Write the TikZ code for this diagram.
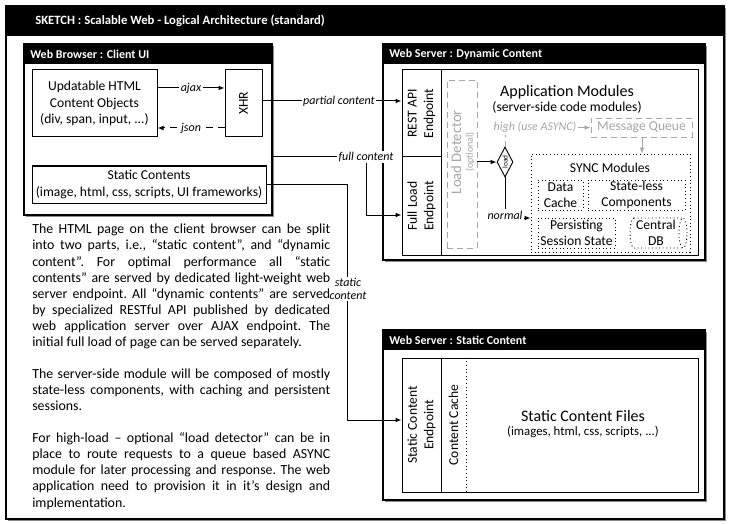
\documentclass[tikz,border=0pt]{standalone}
\usepackage{fontspec}
\setmainfont{Carlito}
\usetikzlibrary{arrows.meta,fit,shapes.geometric,shadows}
\definecolor{lg}{HTML}{A6A6A6}
\begin{document}
\begin{tikzpicture}[x=0.75pt,y=-0.75pt,
  frame/.style={draw, line width=1.1pt, inner sep=0pt, fill=white,
    drop shadow={shadow xshift=1.5pt, shadow yshift=-1.5pt, fill=black!45, opacity=1}},
  box/.style={draw, line width=0.75pt, inner sep=0pt},
  dotbox/.style={draw, dotted, line width=0.7pt, inner sep=0pt},
  gbox/.style={draw=lg, dash pattern=on 4.5pt off 3pt, line width=0.7pt, inner sep=0pt},
  bar/.style={fill=black, inner sep=0pt},
  bartxt/.style={text=white, font=\fontsize{9}{11}\selectfont\bfseries, anchor=west, inner sep=0pt},
  txt/.style={font=\fontsize{10.2}{12.4}\selectfont, align=center, inner sep=0pt},
  big/.style={font=\fontsize{12}{14}\selectfont, align=center, inner sep=0pt},
  lab/.style={font=\fontsize{9}{10.5}\selectfont\itshape, fill=white, inner sep=1pt, align=center},
  glab/.style={font=\fontsize{9}{10.5}\selectfont\itshape, text=lg, fill=white, inner sep=1pt},
  arr/.style={-{Latex[length=4.5pt,width=3.6pt]}, line width=0.75pt},
  garr/.style={-{Latex[length=4.5pt,width=3.6pt]}, line width=0.75pt, draw=lg},
]
\useasboundingbox (0,0) rectangle (731,524);

% helper coordinates (levels)
\coordinate (yaj) at (0,88);
\coordinate (yjs) at (0,128);
\coordinate (ypc) at (0,101);
\coordinate (yfc) at (0,157);
\coordinate (yfl) at (0,215);
\coordinate (ysa) at (0,420);
\coordinate (yno) at (0,218);
\coordinate (xfc) at (366,0);
\coordinate (xst) at (347,0);
\coordinate (xmq) at (642,0);

% outer frame
\node[frame, fit={(6,6)(724,519)}] (outer) {};
\node[bar, fit={(6,6)(724,36)}] (tbar) {};
\node[bartxt, font=\fontsize{9.5}{11}\selectfont\bfseries] (ttl) at (35,21) {SKETCH : Scalable Web - Logical Architecture (standard)};

% web browser
\node[frame, fit={(24,44)(272,215)}] (wb) {};
\node[bar, fit={(24,44)(272,64)}] (wbbar) {};
\node[bartxt] (wbt) at (30,54) {Web Browser : Client UI};
\node[box, fit={(32,70)(157,137)}] (upd) {};
\node[txt] (updt) at (upd.center) {Updatable HTML\\Content Objects\\(div, span, input, ...)};
\node[box, fit={(225,70)(262,137)}] (xhr) {};
\node[txt, rotate=90] (xhrt) at (xhr.center) {XHR};
\node[box, fit={(32,166)(266,203)}] (stc) {};
\node[txt] (stct) at (stc.center) {Static Contents\\(image, html, css, scripts, UI frameworks)};

\draw[arr] (upd.east |- yaj) -- (xhr.west |- yaj) node[midway, lab] {ajax};
\draw[arr, dash pattern=on 5pt off 4pt] (xhr.west |- yjs) -- (upd.east |- yjs) node[midway, lab] {json};

% dynamic server
\node[frame, fit={(383,44)(705,260)}] (dyn) {};
\node[bar, fit={(383,44)(705,64)}] (dynbar) {};
\node[bartxt] (dynt) at (389,54) {Web Server : Dynamic Content};
\node[box, fit={(402,70)(698,255)}] (app) {};
\node[box, fit={(402,70)(441,157)}] (rest) {};
\node[txt, rotate=90] (restt) at (rest.center) {REST API\\Endpoint};
\node[box, fit={(402,157)(441,255)}] (full) {};
\node[txt, rotate=90] (fullt) at (full.center) {Full Load\\Endpoint};
\node[big] (appt) at (567,92) {Application Modules};
\node[txt] (apps) at (567,107) {(server-side code modules)};

\node[gbox, fit={(447,80)(477,248)}] (ld) {};
\node[rotate=90, text=lg, font=\fontsize{11}{12}\selectfont, inner sep=0pt] (ldt) at (456,152) {Load Detector};
\node[rotate=90, text=lg, font=\fontsize{7.5}{9}\selectfont, inner sep=0pt] (ldo) at (470,152) {(optional)};

\node[diamond, draw, line width=0.7pt, minimum width=12pt, minimum height=22.5pt, inner sep=0pt] (dia) at (505,162) {};
\node[rotate=90, font=\fontsize{5.5}{6}\selectfont, inner sep=0pt] (diat) at (dia.center) {load};

\node[gbox, fit={(591,118)(692,137)}] (mq) {};
\node[txt, text=lg] (mqt) at (mq.center) {Message Queue};
\node[glab] (high) at (535,127.5) {high (use ASYNC)};
\draw[garr] (high.east) -- (mq.west);
\draw[draw=lg, dash pattern=on 4pt off 3pt, line width=0.7pt] (dia.north) -- (dia.north |- high.south);

\draw[arr] (ld.east |- dia.west) -- (dia.west);

\node[dotbox, fit={(531,154)(690,252)}] (sync) {};
\node[txt] (synct) at (610,168) {SYNC Modules};
\node[dotbox, fit={(538,180)(583,210)}] (dc) {};
\node[txt] (dct) at (dc.center) {Data\\Cache};
\node[dotbox, fit={(588,180)(685,210)}] (sl) {};
\node[txt] (slt) at (sl.center) {State-less\\Components};
\node[dotbox, fit={(538,218)(615,248)}] (ps) {};
\node[txt] (pst) at (ps.center) {Persisting\\Session State};
% central DB (horizontal cylinder)
\node[inner sep=0pt, fit={(630,218)(687,248)}] (db) {};
\draw[dotted, line width=0.7pt] (634,218) -- (683,218)
  (634,248) -- (683,248)
  (634,218) arc[start angle=90, end angle=270, x radius=3pt, y radius=11.25pt];
\draw[dotted, line width=0.7pt] (683,233) ellipse [x radius=3pt, y radius=11.25pt];
\node[txt] (dbt) at (656,233) {Central\\DB};

\draw[garr] (mq.south -| xmq) -- (sync.north -| xmq);
\draw[arr] (dia.south) -- (dia.south |- yno) -- (sync.west |- yno);
\node[lab] (nrm) at (505,215) {normal};

% static server
\node[frame, fit={(383,330)(705,500)}] (sts) {};
\node[bar, fit={(383,330)(705,350)}] (stsbar) {};
\node[bartxt] (stst) at (389,340) {Web Server : Static Content};
\node[box, fit={(402,358)(698,492)}] (sfiles) {};
\node[box, fit={(402,358)(441,492)}] (sep) {};
\node[txt, rotate=90] (sept) at (sep.center) {Static Content\\Endpoint};
\node[inner sep=0pt, fit={(441,358)(466,492)}] (cc) {};
\draw[dotted, line width=0.7pt] (cc.north east) -- (cc.south east);
\node[txt, rotate=90] (cct) at (cc.center) {Content Cache};
\node[big] (sft) at (583,416) {Static Content Files};
\node[txt, font=\fontsize{9.6}{11}\selectfont] (sfs) at (583,432) {(images, html, css, scripts, ...)};

% connectors between blocks
\draw[arr] (xhr.east |- ypc) -- (rest.west |- ypc) node[pos=0.55, lab] {partial content};
\draw[arr] (wb.east |- yfc) -- (xfc |- yfc) -- (xfc |- yfl) -- (full.west |- yfl);
\node[lab] (fcl) at (xfc |- yfc) {full content};
\draw[arr] (stc.east) -- (stc.east -| xst) -- (xst |- ysa) -- (sep.west |- ysa);
\node[lab, inner sep=0.5pt, font=\fontsize{9}{10}\selectfont\itshape] (scl) at (348,289) {static\\content};

% description
\node[anchor=north west, text width=223.5pt, align=justify, inner sep=0pt,
      font=\fontsize{10.4}{12.05}\selectfont] (desc) at (32,224) {\frenchspacing\parindent=0pt
The HTML page on the client browser can be split\linebreak
into two parts, i.e., “static content”, and “dynamic\linebreak
content”. For optimal performance all “static\linebreak
contents” are served by dedicated light-weight web\linebreak
server endpoint. All “dynamic contents” are served\linebreak
by specialized RESTful API published by dedicated\linebreak
web application server over AJAX endpoint. The\linebreak
initial full load of page can be served separately.\par\vspace{12.05pt}
The server-side module will be composed of mostly\linebreak
state-less components, with caching and persistent\linebreak
sessions.\par\vspace{12.05pt}
For high-load – optional “load detector” can be in\linebreak
place to route requests to a queue based ASYNC\linebreak
module for later processing and response. The web\linebreak
application need to provision it in it’s design and\linebreak
implementation.};
\end{tikzpicture}
\end{document}
